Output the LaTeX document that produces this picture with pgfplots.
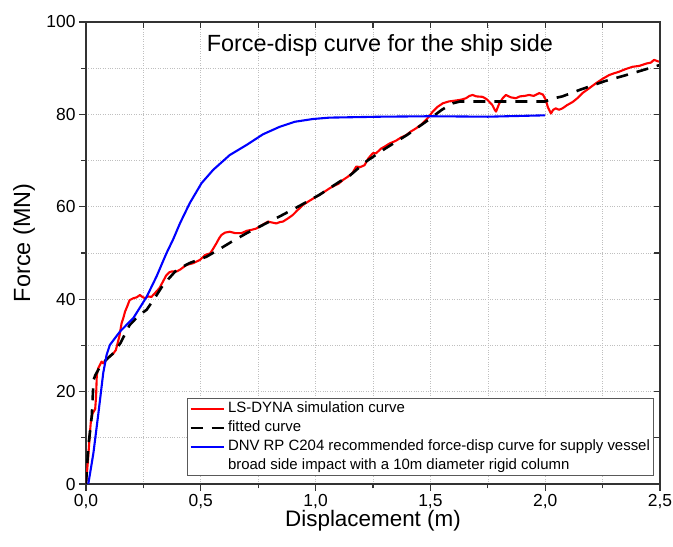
\documentclass[border=0pt]{standalone}
\usepackage{fontspec}
\setmainfont{Liberation Sans}
\usepackage{pgfplots}
\pgfplotsset{compat=1.18}

\definecolor{simred}{RGB}{255,0,0}
\definecolor{dnvblue}{RGB}{0,0,255}

\begin{document}
\begin{tikzpicture}
% LS-DYNA simulated force-displacement response
\pgfplotstableread{
x y
0.000 0.0
0.005 3.0
0.010 6.0
0.017 11.0
0.022 14.0
0.029 15.3
0.035 15.8
0.040 16.2
0.044 19.0
0.047 23.5
0.053 25.0
0.061 25.8
0.068 26.5
0.075 26.1
0.085 26.8
0.095 27.3
0.110 27.9
0.120 28.3
0.130 29.0
0.138 30.5
0.145 31.9
0.155 34.8
0.163 36.0
0.170 37.3
0.180 38.5
0.190 39.8
0.206 40.2
0.220 40.4
0.235 40.9
0.245 40.5
0.257 40.2
0.270 40.6
0.285 40.5
0.300 41.3
0.320 42.4
0.335 43.8
0.350 45.2
0.362 45.8
0.373 46.0
0.394 46.0
0.410 46.4
0.437 47.4
0.467 47.8
0.496 48.5
0.520 49.6
0.540 49.9
0.550 50.6
0.568 52.1
0.580 53.2
0.590 53.9
0.605 54.4
0.626 54.6
0.650 54.3
0.677 54.3
0.700 54.8
0.720 55.0
0.742 55.3
0.765 56.0
0.793 56.8
0.810 56.6
0.829 56.4
0.845 56.7
0.858 56.8
0.880 57.5
0.900 58.2
0.920 59.2
0.945 60.4
0.970 61.2
0.990 61.8
1.017 62.6
1.040 63.3
1.061 64.0
1.075 64.4
1.100 65.0
1.119 65.8
1.140 66.5
1.160 67.3
1.177 68.7
1.195 68.6
1.213 69.0
1.230 70.5
1.249 71.6
1.264 71.6
1.285 72.6
1.300 73.0
1.322 73.7
1.350 74.3
1.372 75.0
1.394 75.5
1.415 76.3
1.438 77.0
1.460 77.8
1.481 78.8
1.495 79.6
1.510 80.6
1.530 81.6
1.554 82.4
1.580 82.8
1.610 83.0
1.635 83.2
1.655 83.5
1.670 84.0
1.684 84.2
1.700 83.9
1.727 83.8
1.745 83.3
1.757 82.7
1.770 82.0
1.780 81.0
1.786 80.6
1.793 81.5
1.800 82.4
1.815 83.5
1.829 84.2
1.850 83.7
1.872 83.5
1.890 83.9
1.910 84.0
1.930 84.2
1.950 84.0
1.974 84.6
1.990 84.3
2.003 83.1
2.012 81.5
2.025 80.2
2.035 81.0
2.046 81.3
2.060 81.0
2.075 81.3
2.095 82.0
2.120 82.7
2.140 83.5
2.162 84.6
2.190 85.6
2.220 86.7
2.250 87.7
2.278 88.5
2.300 88.9
2.320 89.2
2.350 89.8
2.380 90.3
2.410 90.5
2.440 91.0
2.460 91.2
2.474 91.8
2.490 91.5
2.500 91.4
}\lsdyna

% fitted curve
\pgfplotstableread{
x y
0.000 0.0
0.010 8.1
0.025 14.6
0.033 22.5
0.040 23.5
0.061 25.4
0.090 27.0
0.119 28.3
0.150 30.5
0.190 34.4
0.230 36.5
0.264 37.7
0.300 40.3
0.336 43.1
0.394 46.3
0.450 47.8
0.525 49.2
0.580 50.8
0.633 52.4
0.700 54.3
0.760 55.8
0.843 57.9
0.930 60.2
1.017 62.6
1.100 65.3
1.150 66.8
1.220 69.8
1.300 72.5
1.400 75.6
1.480 78.4
1.550 81.0
1.597 82.4
1.630 82.8
2.000 82.8
2.030 83.4
2.075 83.9
2.150 85.3
2.260 87.2
2.380 88.9
2.500 90.7
}\fitted

% DNV RP C204 recommended curve
\pgfplotstableread{
x y
0.010 0.0
0.032 6.6
0.054 15.3
0.075 24.0
0.090 28.0
0.104 30.1
0.148 33.0
0.206 35.9
0.264 40.5
0.307 44.9
0.350 49.9
0.380 53.0
0.410 56.5
0.452 60.8
0.503 65.1
0.554 68.0
0.626 71.2
0.700 73.4
0.771 75.7
0.843 77.3
0.909 78.4
0.988 79.0
1.060 79.3
1.280 79.5
1.500 79.6
1.750 79.5
2.000 79.8
}\dnv

\pgfplotsset{
  frame/.style={
    scale only axis,
    width=574bp, height=462bp,
    xmin=0, xmax=2.5, ymin=0, ymax=100,
    xtick={0,0.5,...,2.5},
    ytick={0,20,...,100},
    minor x tick num=1,
    minor y tick num=1,
    axis line style={line width=1.3bp, black!80},
    major tick style={line width=1.1bp, black!80},
    minor tick style={line width=1.1bp, black!80},
  }
}

\begin{axis}[
  frame,
  tick align=outside,
  xtick pos=bottom, ytick pos=left,
  major tick length=7bp,
  minor tick length=4.5bp,
  grid=both,
  major grid style={dotted, line width=0.6bp, gray!50},
  minor grid style={dotted, line width=0.6bp, gray!50},
  tick label style={font=\fontsize{17.5}{20}\selectfont},
  /pgf/number format/assume math mode=true,
  xticklabel style={/pgf/number format/.cd, use comma, fixed, fixed zerofill, precision=1},
  yticklabel style={/pgf/number format/.cd, fixed, precision=0},
  xlabel={Displacement (m)},
  ylabel={Force (MN)},
  every axis x label/.style={at={(axis description cs:0.5,0)}, anchor=center, yshift=-37bp,
    font=\fontsize{22.5}{26}\selectfont},
  every axis y label/.style={at={(axis description cs:-0.108,0.522)}, anchor=center, rotate=90,
    font=\fontsize{23.5}{27}\selectfont},
  legend cell align=left,
  legend image code/.code={\draw[#1] (0bp,0bp) -- (33bp,0bp);},
  legend style={
    at={(rel axis cs:0.176,0.017)}, anchor=south west,
    draw=black!65, line width=0.8bp, fill=white,
    inner sep=2bp,
    font=\fontsize{15}{17}\selectfont,
    nodes={inner sep=1bp, text height=11bp, text depth=3.5bp},
    row sep=2.3bp,
    /tikz/every odd column/.append style={column sep=2bp},
  },
]
\addplot[simred, line width=2.1bp, line join=round] table[x=x, y=y] {\lsdyna};
\addlegendentry{LS-DYNA simulation curve}
\addplot[black, line width=2.6bp, dash pattern=on 12bp off 9bp] table[x=x, y=y] {\fitted};
\addlegendentry{fitted curve}
\addplot[dnvblue, line width=2.1bp, line join=round] table[x=x, y=y] {\dnv};
\addlegendentry{DNV RP C204 recommended force-disp curve for supply vessel}
\addlegendimage{empty legend}
\addlegendentry{broad side impact with a 10m diameter rigid column}

\node[font=\fontsize{23.5}{27}\selectfont] at (rel axis cs:0.512,0.95) {Force-disp curve for the ship side};
\end{axis}

% inward ticks on the top and right edges
\begin{axis}[
  frame,
  axis x line*=top, axis y line*=right,
  tick align=inside,
  major tick length=6bp,
  minor tick length=6bp,
  xticklabels={}, yticklabels={},
]
\end{axis}

\pgfresetboundingbox
\path (-86bp,-63bp) rectangle (587bp,484bp);
\end{tikzpicture}
\end{document}
